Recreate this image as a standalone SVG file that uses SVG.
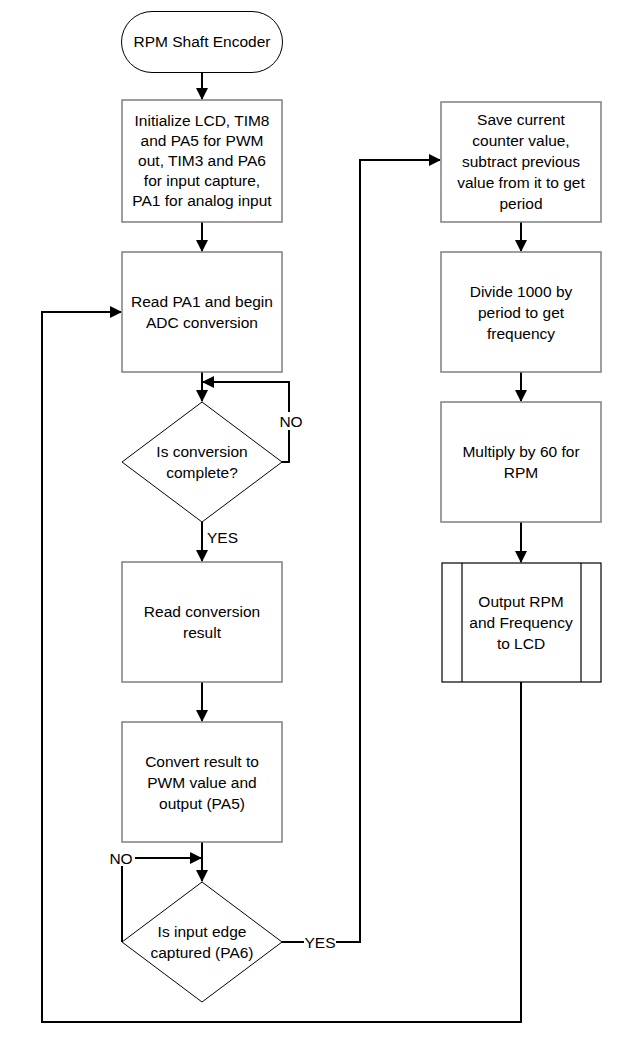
<svg xmlns="http://www.w3.org/2000/svg" width="622" height="1061" viewBox="0 0 622 1061">
<style>
text{font-family:"Liberation Sans",Arial,sans-serif;font-size:15.5px;fill:#000;text-anchor:middle}
.box{fill:#fff;stroke:#7f7f7f;stroke-width:1.5}
.shape{fill:#fff;stroke:#000;stroke-width:1}
.sub{fill:#fff;stroke:#000;stroke-width:1.2}
.conn{fill:none;stroke:#000;stroke-width:2}
.lbl{text-anchor:start}
</style>
<defs>
<marker id="ah" markerWidth="12" markerHeight="12" refX="11" refY="6" orient="auto" markerUnits="userSpaceOnUse">
<path d="M0,0 L12,6 L0,12 Z" fill="#000"/>
</marker>
</defs>
<rect width="622" height="1061" fill="#fff"/>
<g id="connectors">
<path class="conn" d="M202,72 V99" marker-end="url(#ah)"/>
<path class="conn" d="M202,222 V251" marker-end="url(#ah)"/>
<path class="conn" d="M202,372 V401" marker-end="url(#ah)"/>
<path class="conn" d="M282,462 H289 V382 H203" marker-end="url(#ah)"/>
<path class="conn" d="M202,522 V561" marker-end="url(#ah)"/>
<path class="conn" d="M202,682 V721" marker-end="url(#ah)"/>
<path class="conn" d="M202,842 V881" marker-end="url(#ah)"/>
<path class="conn" d="M122,942 V858 H201" marker-end="url(#ah)"/>
<path class="conn" d="M282,942 H360 V160 H440" marker-end="url(#ah)"/>
<path class="conn" d="M521,222 V251" marker-end="url(#ah)"/>
<path class="conn" d="M521,372 V401" marker-end="url(#ah)"/>
<path class="conn" d="M521,522 V562" marker-end="url(#ah)"/>
<path class="conn" d="M521,682 V1022 H42 V312 H121" marker-end="url(#ah)"/>
<rect x="279" y="412" width="24" height="18" fill="#fff"/>
<text x="291" y="427">NO</text>
<rect x="206" y="529" width="32" height="17" fill="#fff"/>
<text class="lbl" x="207" y="543">YES</text>
<rect x="107" y="849" width="28" height="17" fill="#fff"/>
<text x="121" y="864">NO</text>
<rect x="304" y="933" width="32" height="17" fill="#fff"/>
<text x="320" y="948">YES</text>
</g>
<g id="start">
<rect class="shape" x="121.5" y="11.5" width="161" height="61" rx="30.5"/>
<text x="202" y="47">RPM Shaft Encoder</text>
</g>
<g id="init">
<rect class="box" x="122" y="100" width="160" height="122"/>
<text x="202" y="126">Initialize LCD, TIM8</text>
<text x="202" y="146">and PA5 for PWM</text>
<text x="202" y="166">out, TIM3 and PA6</text>
<text x="202" y="186">for input capture,</text>
<text x="202" y="206">PA1 for analog input</text>
</g>
<g id="read-pa1">
<rect class="box" x="122" y="252" width="160" height="120"/>
<text x="202" y="307">Read PA1 and begin</text>
<text x="202" y="328">ADC conversion</text>
</g>
<g id="conv-complete">
<polygon class="shape" points="202,402 282,462 202,522 122,462"/>
<text x="202" y="457">Is conversion</text>
<text x="202" y="478">complete?</text>
</g>
<g id="read-result">
<rect class="box" x="122" y="562" width="160" height="120"/>
<text x="202" y="617">Read conversion</text>
<text x="202" y="638">result</text>
</g>
<g id="convert-pwm">
<rect class="box" x="122" y="722" width="160" height="120"/>
<text x="202" y="767">Convert result to</text>
<text x="202" y="788">PWM value and</text>
<text x="202" y="809">output (PA5)</text>
</g>
<g id="edge-captured">
<polygon class="shape" points="202,882 282,942 202,1002 122,942"/>
<text x="202" y="937">Is input edge</text>
<text x="202" y="958">captured (PA6)</text>
</g>
<g id="save-counter">
<rect class="box" x="441" y="102" width="160" height="120"/>
<text x="521" y="125">Save current</text>
<text x="521" y="146">counter value,</text>
<text x="521" y="167">subtract previous</text>
<text x="521" y="188">value from it to get</text>
<text x="521" y="209">period</text>
</g>
<g id="divide">
<rect class="box" x="441" y="252" width="160" height="120"/>
<text x="521" y="297">Divide 1000 by</text>
<text x="521" y="318">period to get</text>
<text x="521" y="339">frequency</text>
</g>
<g id="multiply">
<rect class="box" x="441" y="402" width="160" height="120"/>
<text x="521" y="457">Multiply by 60 for</text>
<text x="521" y="478">RPM</text>
</g>
<g id="output-lcd">
<rect class="sub" x="442" y="563" width="159" height="119"/>
<line class="sub" x1="462" y1="563" x2="462" y2="682"/>
<line class="sub" x1="581" y1="563" x2="581" y2="682"/>
<text x="521" y="607">Output RPM</text>
<text x="521" y="628">and Frequency</text>
<text x="521" y="649">to LCD</text>
</g>
</svg>
